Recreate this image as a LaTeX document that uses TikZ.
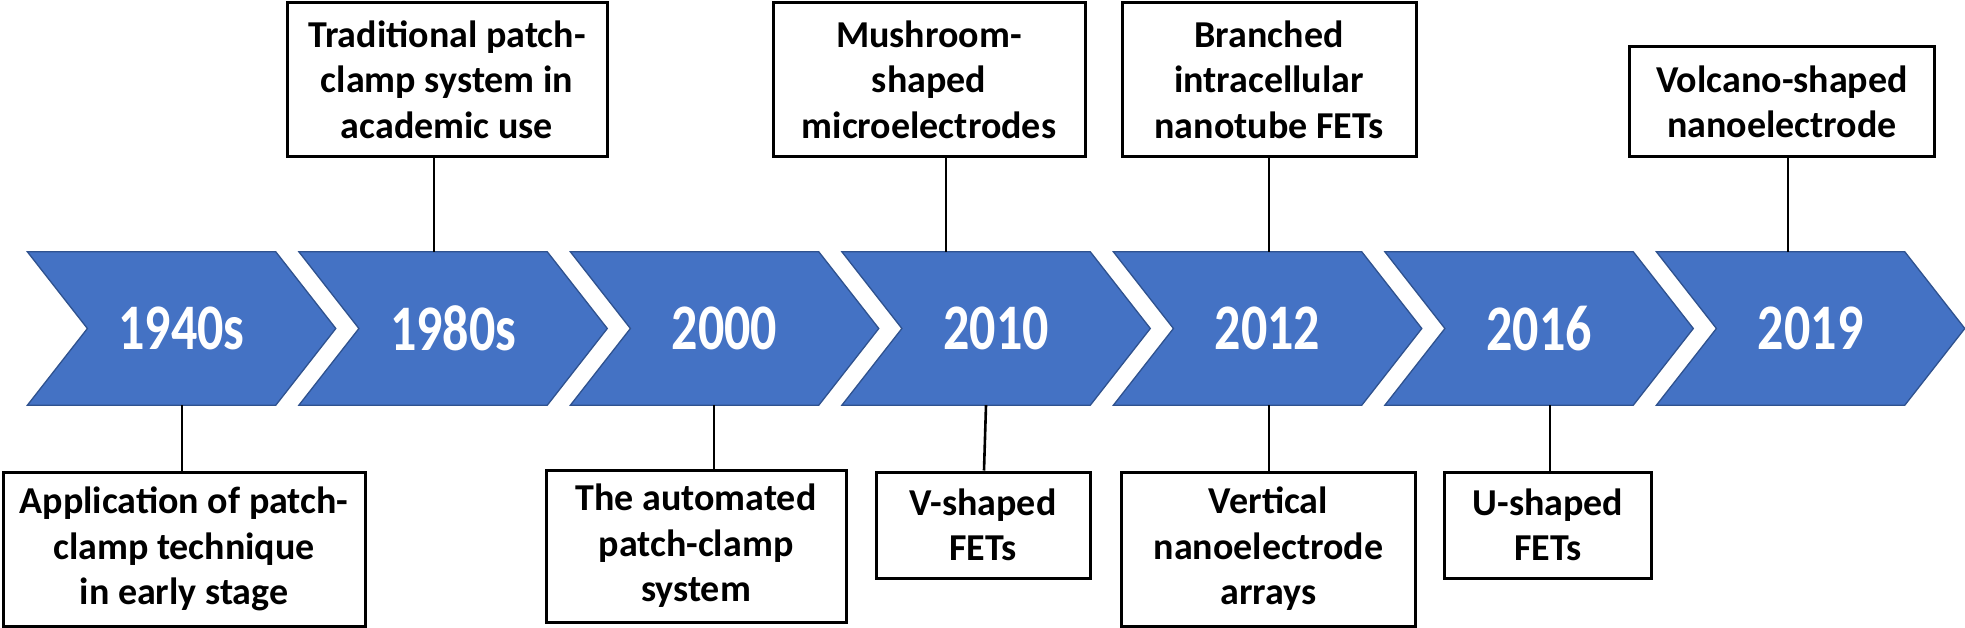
\documentclass[tikz,border=0pt]{standalone}
\usepackage{fontspec}
\usepackage{graphicx}
\setmainfont{Carlito}
\usetikzlibrary{backgrounds}
\definecolor{chev}{HTML}{4472C4}
\definecolor{chevb}{HTML}{2F528F}
\newcommand{\tallyear}[1]{\scalebox{1}[1.25]{#1}}
\begin{document}
\begin{tikzpicture}[x=1pt,y=-1pt,
  yearbox/.style={minimum width=308pt, minimum height=153pt, inner sep=0pt, text=white, font=\fontsize{52}{62}\selectfont\bfseries},
  textbox/.style={draw=black, line width=3pt, inner sep=0pt, align=center, font=\fontsize{38}{45.5}\selectfont\bfseries, fill=white},
  link/.style={draw=black, line width=2.6pt},
  chevshape/.style={fill=chev, draw=chevb, line width=1.3pt, line join=miter}]
\useasboundingbox (0,0) rectangle (1965,628);
% year chevrons
\foreach \i/\lab in {0/1940s,1/1980s,2/2000,3/2010,4/2012,5/2016,6/2019}{
  \node[yearbox] (Y\i) at ({27.6+271.5*\i+154},328.5) {\tallyear{\lab}};
}
\begin{scope}[on background layer]
\foreach \i in {0,...,6}{
  \path[chevshape] (Y\i.north west) -- ([xshift=-60pt]Y\i.north east) -- (Y\i.east)
     -- ([xshift=-60pt]Y\i.south east) -- (Y\i.south west) -- ([xshift=60pt]Y\i.west) -- cycle;
}
\end{scope}
% top boxes
\node[textbox, minimum width=320pt, minimum height=154pt] (A) at (447,79.7) {Traditional patch-\\clamp system in\\academic use};
\node[textbox, minimum width=312pt, minimum height=154pt] (B) at (929,79.7) {Mushroom-\\shaped\\microelectrodes};
\node[textbox, minimum width=294pt, minimum height=154pt] (C) at (1269,79.7) {Branched\\intracellular\\nanotube FETs};
\node[textbox, minimum width=305pt, minimum height=110pt] (D) at (1782,102) {Volcano-shaped\\nanoelectrode};
% bottom boxes
\node[textbox, minimum width=362pt, minimum height=154pt] (E) at (184,549) {Application of patch-\\clamp technique\\in early stage};
\node[textbox, minimum width=300pt, minimum height=152pt] (F) at (696,546) {The automated\\patch-clamp\\system};
\node[textbox, minimum width=214pt, minimum height=106pt] (G) at (983,525) {V-shaped\\FETs};
\node[textbox, minimum width=294pt, minimum height=154pt] (H) at (1268.5,549) {Vertical\\nanoelectrode\\arrays};
\node[textbox, minimum width=207pt, minimum height=106pt] (I) at (1548,525) {U-shaped\\FETs};
% connector x positions
\coordinate (cA) at (434,0);
\coordinate (cB) at (946,0);
\coordinate (cC) at (1269,0);
\coordinate (cD) at (1788,0);
\coordinate (cE) at (182,0);
\coordinate (cF) at (714,0);
\coordinate (cG1) at (986,0);
\coordinate (cG2) at (984,0);
\coordinate (cH) at (1269,0);
\coordinate (cI) at (1550,0);
\draw[link] (A.south -| cA) -- (Y1.north -| cA);
\draw[link] (B.south -| cB) -- (Y3.north -| cB);
\draw[link] (C.south -| cC) -- (Y4.north -| cC);
\draw[link] (D.south -| cD) -- (Y6.north -| cD);
\draw[link] (Y0.south -| cE) -- (E.north -| cE);
\draw[link] (Y2.south -| cF) -- (F.north -| cF);
\draw[link] (Y3.south -| cG1) -- (G.north -| cG2);
\draw[link] (Y4.south -| cH) -- (H.north -| cH);
\draw[link] (Y5.south -| cI) -- (I.north -| cI);
\end{tikzpicture}
\end{document}
